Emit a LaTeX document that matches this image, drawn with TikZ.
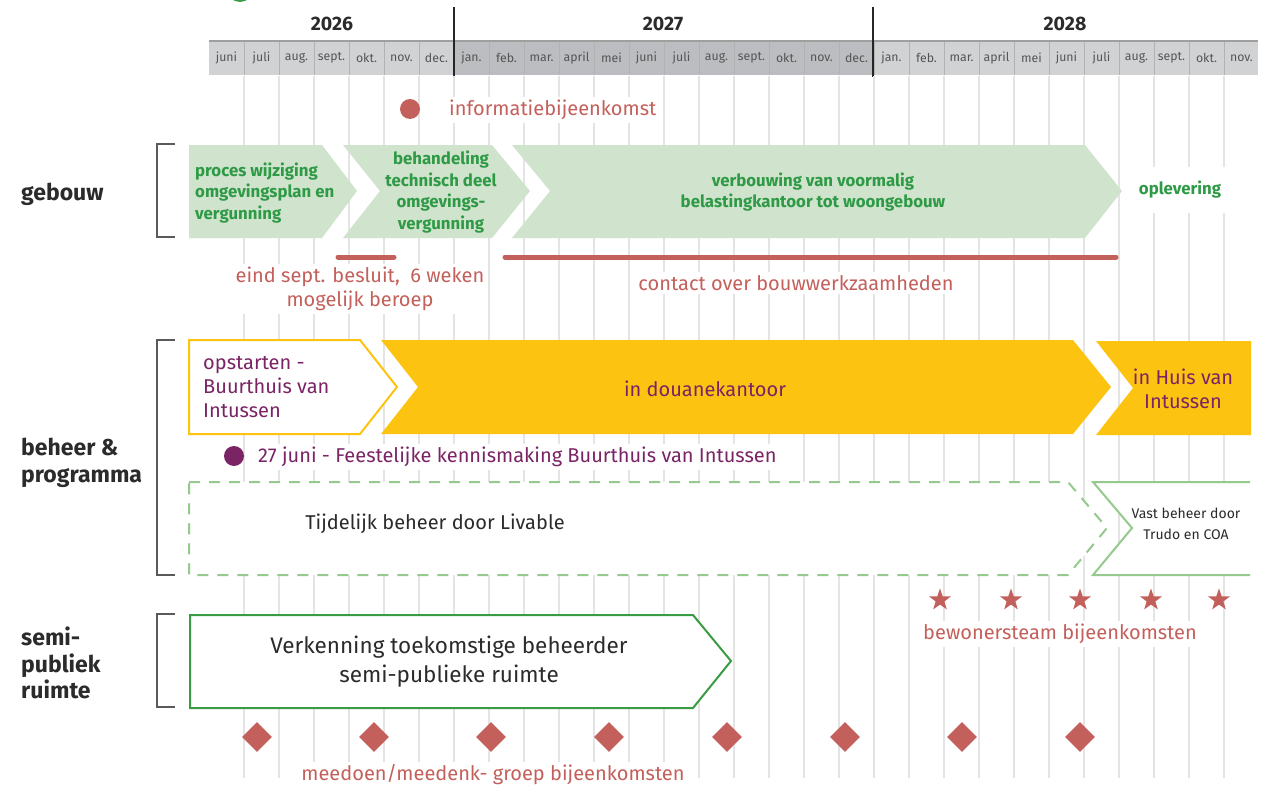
\documentclass[tikz,border=0pt]{standalone}
\usepackage{fontspec}
\setmainfont{Fira Sans}
\usetikzlibrary{shapes.geometric}
\definecolor{lgreen}{HTML}{D0E3CD}
\definecolor{gtext}{HTML}{2E9A46}
\definecolor{rred}{HTML}{C4605B}
\definecolor{yel}{HTML}{FDC311}
\definecolor{purp}{HTML}{7A2465}
\definecolor{dgreen}{HTML}{95C98D}
\definecolor{ogreen}{HTML}{3A9B45}
\definecolor{hlight}{HTML}{D1D2D4}
\definecolor{hdark}{HTML}{BCBDC0}
\definecolor{gridc}{HTML}{E4E4E4}
\definecolor{dtext}{HTML}{2B2B2B}
\definecolor{mtext}{HTML}{555555}
\definecolor{brk}{HTML}{5A5A5A}
\newcommand\myfs[2]{\fontsize{#1}{#2}\selectfont}
\begin{document}
\begin{tikzpicture}[x=1pt,y=-1pt,
  rowlabel/.style={font=\myfs{23}{26.5}\bfseries, text=dtext, align=left, anchor=west, inner sep=0},
  gtxt/.style={font=\myfs{16.8}{21.5}\bfseries, text=gtext, inner sep=0},
  redlbl/.style={font=\myfs{20}{24}, text=rred, fill=white, inner sep=3},
  purpl/.style={font=\myfs{20}{24}, text=purp, inner sep=0},
  darklbl/.style={font=\myfs{20}{24}, text=dtext, inner sep=0},
  monthlbl/.style={font=\myfs{12.3}{13}, text=mtext, inner sep=0},
  yearlbl/.style={font=\myfs{19.5}{20}\bfseries, text=dtext, inner sep=0},
  gridline/.style={gridc, line width=1.8},
  bracket/.style={brk, line width=1.5},
  redbar/.style={rred, line width=5, line cap=round},
  dotmark/.style={circle, inner sep=0, minimum size=20},
  starmark/.style={star, star points=5, star point ratio=2.5, fill=rred, inner sep=0, minimum size=23},
  diamark/.style={diamond, fill=rred, inner sep=0, minimum size=30},
]
\useasboundingbox (0,0) rectangle (1270,787);

% partial green circle at top
\fill[ogreen] (240,-11) circle (13);

% header
\fill[hlight] (209,41) rectangle (1258,75);
\fill[hdark] (454,41) rectangle (874,75);
\draw[gray!75, line width=2] (209,41) -- (1258,41);
\foreach \k in {1,...,29} {
  \draw[gray!60, line width=0.8] (209+35*\k,42) -- (209+35*\k,75);
}
\foreach \m [count=\k from 0] in {juni,juli,aug.,sept.,okt.,nov.,dec.,jan.,feb.,mar.,april,mei,juni,juli,aug.,sept.,okt.,nov.,dec.,jan.,feb.,mar.,april,mei,juni,juli,aug.,sept.,okt.,nov.} {
  \node[monthlbl] (m\k) at (226.5+35*\k,58) {\m};
}
\node[yearlbl] (y26) at (332,24) {2026};
\node[yearlbl] (y27) at (663,24) {2027};
\node[yearlbl] (y28) at (1065,24) {2028};
\draw[black!85, line width=2.5] (454,7) -- (454,77);
\draw[black!85, line width=2.5] (873,7) -- (873,77);

% grid
\foreach \k in {1,...,29} {
  \draw[gridline] (209+35*\k,76) -- (209+35*\k,778);
}

% brackets and row labels
\draw[bracket] (175,144) -- (157,144) -- (157,237) -- (175,237);
\draw[bracket] (175,340) -- (157,340) -- (157,575) -- (175,575);
\draw[bracket] (175,614) -- (157,614) -- (157,707) -- (175,707);
\node[rowlabel] (g) at (21,194) {gebouw};
\node[rowlabel] (bp) at (21,463) {beheer \&\\programma};
\node[rowlabel] (sp) at (21,663) {semi-\\publiek\\ruimte};

% informatiebijeenkomst
\node[dotmark, fill=rred] (d1) at (410,109) {};
\node[redlbl, anchor=west] (l0) at (446,110) {informatiebijeenkomst};

% gebouw row
\fill[lgreen] (189,145) -- (322,145) -- (357,191) -- (322,238) -- (189,238) -- cycle;
\fill[lgreen] (343,145) -- (492,145) -- (530,191) -- (492,238) -- (343,238) -- (380,191) -- cycle;
\fill[lgreen] (512,145) -- (1085,145) -- (1122,191) -- (1085,238) -- (512,238) -- (550,191) -- cycle;
\node[gtxt, anchor=west, align=left] (t1) at (195,193) {proces wijziging\\omgevingsplan en\\vergunning};
\node[gtxt, align=center] (t2) at (441,192) {behandeling\\technisch deel\\omgevings-\\vergunning};
\node[gtxt, align=center] (t3) at (813,192) {verbouwing van voormalig\\belastingkantoor tot woongebouw};
\node[gtxt, fill=white, inner xsep=8, inner ysep=14] (t4) at (1180,190) {oplevering};
\draw[redbar] (338,257) -- (394,257);
\draw[redbar] (505,257) -- (1116,257);
\node[redlbl, align=center] (l1) at (360,289) {eind sept. besluit,\ \ 6 weken\\mogelijk beroep};
\node[redlbl] (l2) at (796,283) {contact over bouwwerkzaamheden};

% beheer row
\filldraw[fill=white, draw=yel, line width=2] (189,340) -- (360,340) -- (397,387) -- (360,434) -- (189,434) -- cycle;
\fill[yel] (381,340) -- (1073,340) -- (1111,387) -- (1073,434) -- (381,434) -- (418,387) -- cycle;
\fill[yel] (1096,341) -- (1251,341) -- (1251,435) -- (1096,435) -- (1133,388) -- cycle;
\node[purpl, anchor=west, align=left] (b1) at (203,387) {opstarten -\\Buurthuis van\\Intussen};
\node[purpl] (b2) at (705,389) {in douanekantoor};
\node[purpl, align=center] (b3) at (1183,389) {in Huis van\\Intussen};

\node[dotmark, fill=purp] (d2) at (234,456) {};
\node[purpl, anchor=west, fill=white, inner sep=3] (b5) at (255,457) {27 juni - Feestelijke kennismaking Buurthuis van Intussen};

\filldraw[fill=white, draw=dgreen, line width=2, dash pattern=on 11 off 9] (189,482) -- (1068,482) -- (1107,528) -- (1068,575) -- (189,575) -- cycle;
\node[darklbl] (b4) at (435,524) {Tijdelijk beheer door Livable};
\fill[white] (1093,482) -- (1250,482) -- (1250,575) -- (1093,575) -- (1132,528) -- cycle;
\draw[dgreen, line width=2] (1250,482) -- (1093,482) -- (1132,528) -- (1093,575) -- (1250,575);
\node[darklbl, font=\myfs{14}{21}, align=center] (b6) at (1186,524) {Vast beheer door\\Trudo en COA};

% bewonersteam
\foreach \x [count=\i] in {940,1011,1080,1151,1219} {
  \node[starmark] (s\i) at (\x,600) {};
}
\node[redlbl] (l3) at (1060,634) {bewonersteam bijeenkomsten};

% semi-publiek
\filldraw[fill=white, draw=ogreen, line width=2] (190,615) -- (693,615) -- (731,661) -- (693,708) -- (190,708) -- cycle;
\node[darklbl, font=\myfs{22.5}{29}, align=center] (v1) at (449,662) {Verkenning toekomstige beheerder\\semi-publieke ruimte};
\foreach \x [count=\i] in {257,374,491,609,727,845,962,1080} {
  \node[diamark] (r\i) at (\x,737) {};
}
\node[redlbl] (l4) at (493,775) {meedoen/meedenk- groep bijeenkomsten};
\end{tikzpicture}
\end{document}
